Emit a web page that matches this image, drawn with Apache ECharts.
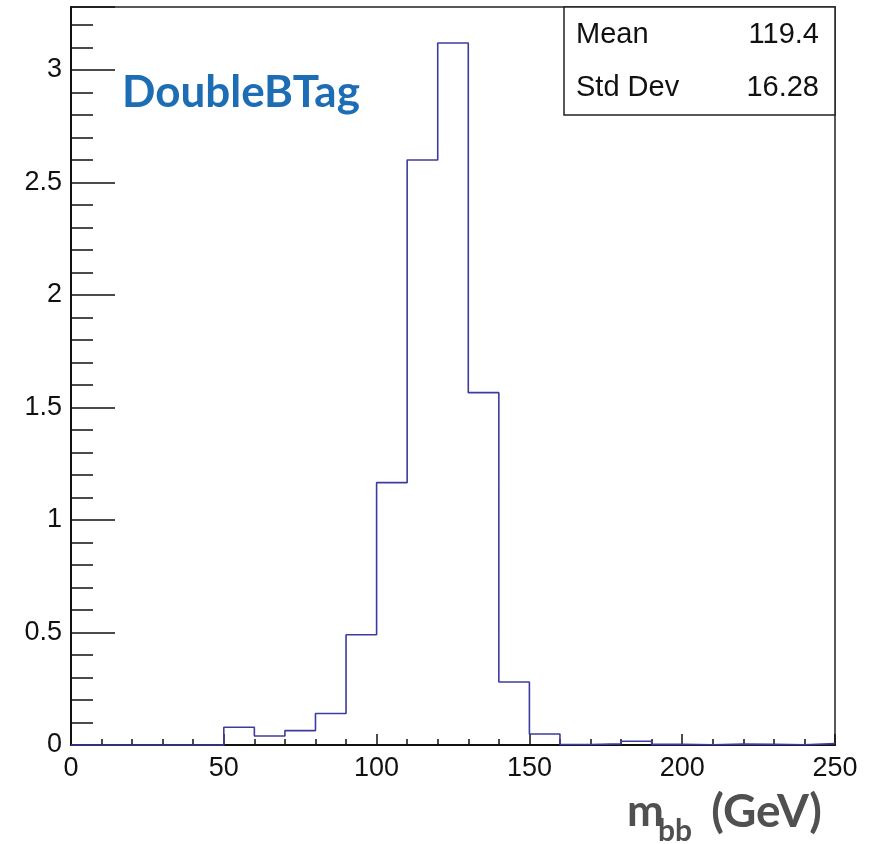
<!DOCTYPE html>
<html>
<head>
<meta charset="utf-8">
<script src="https://cdn.jsdelivr.net/npm/echarts@6/dist/echarts.min.js"></script>
<style>
html,body{margin:0;padding:0;background:#fff;}
#chart{width:873px;height:844px;}
</style>
</head>
<body>
<div id="chart"></div>
<script>
// Histogram bins (lower edges, GeV) and bin contents
const binLowEdges = [0,10,20,30,40,50,60,70,80,90,100,110,120,130,140,150,160,170,180,190,200,210,220,230,240];
const binWidth = 10;
const binContents = [0.000,0.000,0.000,0.000,0.000,0.079,0.040,0.064,0.140,0.490,1.166,2.600,3.120,1.566,0.280,0.049,0.002,0.005,0.017,0.003,0.001,0.004,0.003,0.001,0.006];
const xTickLabels = ['0','50','100','150','200','250'];
const yTickLabels = ['0','0.5','1','1.5','2','2.5','3'];
const statsNames = ['Mean','Std Dev'];
const statsValues = ['119.4','16.28'];
const tagText = 'DoubleBTag';

const stepData = binLowEdges.map((x,i)=>[x, binContents[i]]);
stepData.push([binLowEdges[binLowEdges.length-1]+binWidth, binContents[binContents.length-1]]);

const chart = echarts.init(document.getElementById('chart'));
const labelFont = {fontFamily:'Liberation Sans', fontSize:27, color:'#111'};
const yMax = 3.28;

chart.setOption({
  animation:false,
  backgroundColor:'#fff',
  grid:{left:71,right:38,top:7,bottom:99,show:true,borderColor:'#222',borderWidth:1.5,backgroundColor:'transparent'},
  xAxis:[{
    type:'value',min:0,max:250,interval:50,position:'bottom',
    axisLine:{show:true,onZero:false,lineStyle:{color:'#111',width:2}},
    axisTick:{show:true,inside:true,length:11,lineStyle:{color:'#111',width:1.5}},
    minorTick:{show:true,splitNumber:5,length:6,lineStyle:{color:'#111',width:1.5}},
    splitLine:{show:false},
    axisLabel:Object.assign({margin:10,formatter:(v)=>{const s=String(v);return xTickLabels.includes(s)?s:'';}},labelFont)
  }],
  yAxis:[{
    type:'value',min:0,max:yMax,interval:0.5,position:'left',
    axisLine:{show:true,lineStyle:{color:'#111',width:2}},
    axisTick:{show:true,inside:true,length:44,lineStyle:{color:'#111',width:1.5}},
    splitLine:{show:false},
    axisLabel:Object.assign({margin:9,formatter:(v)=>{const s=String(+v.toFixed(2));return yTickLabels.includes(s)?s:'';}},labelFont)
  },{
    type:'value',min:0,max:yMax,interval:0.1,position:'left',
    axisLine:{show:false},
    axisTick:{show:true,inside:true,length:22,lineStyle:{color:'#111',width:1.5}},
    splitLine:{show:false},
    axisLabel:{show:false}
  }],
  series:[{
    type:'line',step:'end',data:stepData,xAxisIndex:0,yAxisIndex:0,
    symbol:'none',clip:false,
    lineStyle:{color:'#3c3ca0',width:1.6}
  }],
  graphic:[
    {type:'rect',shape:{x:564,y:7,width:271,height:108},style:{fill:'#fff',stroke:'#222',lineWidth:1.5},z:10},
    {type:'text',x:576,y:35,style:{text:statsNames[0],font:'29px "Liberation Sans"',fill:'#111',verticalAlign:'middle'},z:11},
    {type:'text',x:819,y:35,style:{text:statsValues[0],font:'29px "Liberation Sans"',fill:'#111',align:'right',verticalAlign:'middle'},z:11},
    {type:'text',x:576,y:88,style:{text:statsNames[1],font:'29px "Liberation Sans"',fill:'#111',verticalAlign:'middle'},z:11},
    {type:'text',x:819,y:88,style:{text:statsValues[1],font:'29px "Liberation Sans"',fill:'#111',align:'right',verticalAlign:'middle'},z:11},
    {type:'text',x:122,y:93,style:{text:tagText,font:'bold 44px Lato',fill:'#1d6db5',verticalAlign:'middle'},z:11},
    {type:'text',x:627,y:812,style:{text:'m',font:'bold 44px Lato',fill:'#505050',verticalAlign:'middle'},z:11},
    {type:'text',x:658,y:831,style:{text:'bb',font:'bold 30px Lato',fill:'#505050',verticalAlign:'middle'},z:11},
    {type:'text',x:822,y:812,style:{text:'(GeV)',font:'bold 46px Lato',fill:'#505050',align:'right',verticalAlign:'middle'},z:11}
  ]
});
</script>
</body>
</html>
